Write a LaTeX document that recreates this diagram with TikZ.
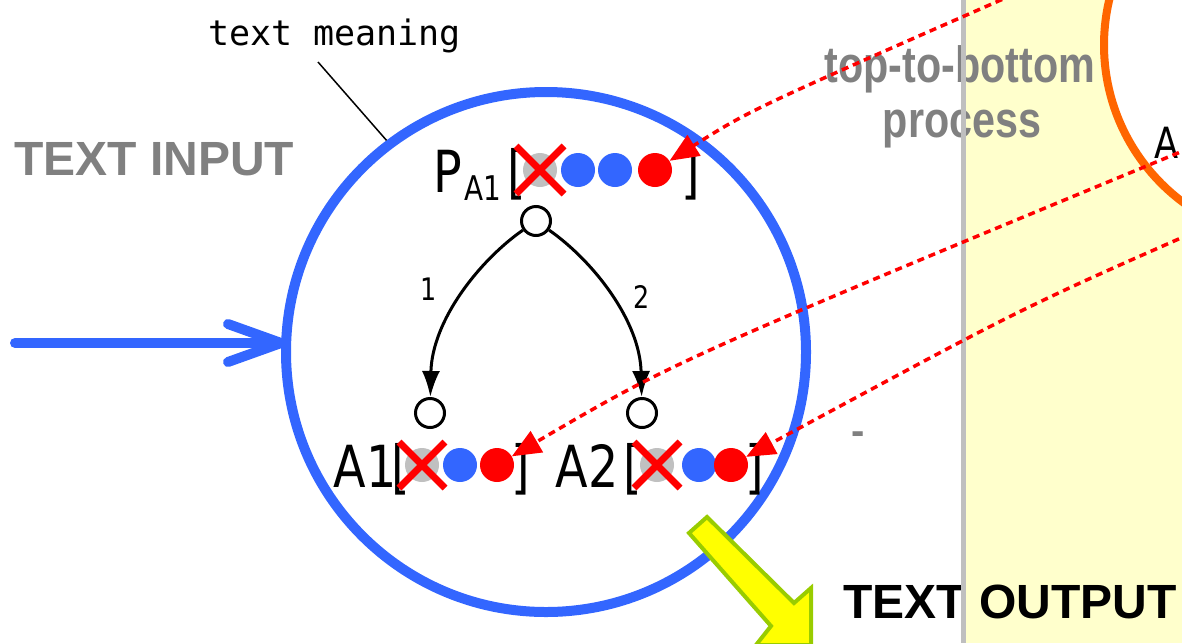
\documentclass[tikz,border=0pt]{standalone}
\usepackage{fontspec}
\setmainfont{DejaVu Sans}
\newfontfamily\labfont[FakeStretch=0.82]{DejaVu Sans}
\newfontfamily\tmfont{DejaVu Sans Mono}
\newfontfamily\arialfont{Liberation Sans}
\newfontfamily\narrowarial[FakeStretch=0.81]{Liberation Sans}
\usetikzlibrary{arrows.meta}
\definecolor{cblue}{HTML}{3366FF}
\definecolor{corange}{HTML}{FF6600}
\definecolor{cyellowbg}{HTML}{FFFFCC}
\definecolor{cgrayline}{HTML}{BFBFBF}
\definecolor{cgraytext}{HTML}{808080}
\definecolor{cgraydot}{HTML}{C0C0C0}
\definecolor{cgreen}{HTML}{99CC00}
\definecolor{cyellow}{HTML}{FFFF00}
\tikzset{
  lab/.style={font=\labfont\fontsize{58}{58}\selectfont, inner sep=0},
  smalllab/.style={font=\labfont\fontsize{31}{31}\selectfont, inner sep=0},
  dot/.style={circle, inner sep=0, minimum size=34pt},
  treenode/.style={circle, draw=black, line width=3pt, fill=white, minimum size=29pt, inner sep=0},
  treeedge/.style={line width=3pt, -{Latex[length=26pt,width=18pt]}},
  redarrow/.style={draw=red, line width=3.5pt, dash pattern=on 7pt off 5pt, -{Triangle[length=29pt,width=24pt]}},
  cross/.style={draw=red, line width=7pt},
  bigtext/.style={font=\arialfont\bfseries\fontsize{48}{48}\selectfont, inner sep=0},
}
\begin{document}
\begin{tikzpicture}[x=1pt,y=-1pt]
\useasboundingbox (0,0) rectangle (1182,643);
\clip (0,0) rectangle (1182,643);
% right panel
\fill[cyellowbg] (966,0) rectangle (1182,643);
\node[circle, draw=corange, line width=8pt, fill=white, minimum size=392pt, inner sep=0] (orange) at (1300,45) {};
\node[font=\labfont\fontsize{43}{43}\selectfont, inner sep=0, anchor=base] (labA) at (1167,158) {A};
% texts
\node[bigtext, text=cgraytext, anchor=base west] (inp) at (14,175) {TEXT INPUT};
\node[bigtext, text=black, anchor=base west] (outp) at (843,618) {TEXT OUTPUT};
\node[font=\narrowarial\bfseries\fontsize{51}{51}\selectfont, text=cgraytext, inner sep=0, anchor=base] (ttb1) at (960,82) {top-to-bottom};
\node[font=\narrowarial\bfseries\fontsize{51}{51}\selectfont, text=cgraytext, inner sep=0, anchor=base] (ttb2) at (962,137) {process};
\node[font=\arialfont\bfseries\fontsize{40}{40}\selectfont, text=cgraytext, inner sep=0, anchor=base] (dash) at (858,444) {-};
% divider
\coordinate (divtop) at (963,0);
\coordinate (divbot) at (963,643);
\draw[cgrayline, line width=5pt] (divtop) -- (divbot);
% blue circle
\node[circle, draw=cblue, line width=10pt, minimum size=520pt, inner sep=0] (meaning) at (546,352) {};
\coordinate (inStart) at (15,343);
\coordinate (inEnd) at (inStart -| meaning.west);
\draw[cblue, line width=10pt, line cap=round] (inStart) -- (inEnd);
\draw[cblue, line width=10pt, line cap=round, line join=round]
  ([shift={(-53,-19)}]inEnd) -- (inEnd) -- ([shift={(-53,19)}]inEnd);
% text meaning
\node[font=\tmfont\fontsize{35}{35}\selectfont, inner sep=0, anchor=base west] (tm) at (208,45) {text meaning};
\coordinate (lead) at (318,62);
\draw[line width=1.5pt] (lead) -- (meaning.127);
% top label
\node[lab, anchor=base west] (pa1) at (433,192) {P\kern3pt\raisebox{-8pt}{\fontsize{34}{34}\selectfont A1}};
\node[lab, anchor=base] (lb1) at (517,192) {[};
\node[lab, anchor=base] (rb1) at (691,192) {]};
\node[dot, fill=cgraydot] (g1) at (540,170) {};
\node[dot, fill=cblue] (b1) at (578,170) {};
\node[dot, fill=cblue] (b2) at (615,170) {};
\node[dot, fill=red] (r1) at (655,170) {};
\draw[cross] ([shift={(-24,-24)}]g1.center) -- ([shift={(24,24)}]g1.center);
\draw[cross] ([shift={(24,-24)}]g1.center) -- ([shift={(-24,24)}]g1.center);
% tree
\node[treenode] (root) at (536,221) {};
\node[treenode] (c1) at (430,413) {};
\node[treenode] (c2) at (642,413) {};
\draw[treeedge] (root) .. controls (480,260) and (432,320) .. (c1);
\draw[treeedge] (root) .. controls (592,260) and (640,320) .. (c2);
\node[smalllab] (e1) at (429,289) {1};
\node[smalllab] (e2) at (642,297) {2};
% bottom labels
\node[lab, anchor=base] (la1) at (365,487) {A1};
\node[lab, anchor=base] (lb2) at (401,487) {[};
\node[lab, anchor=base] (rb2) at (521,487) {]};
\node[dot, fill=cgraydot] (g2) at (422,465) {};
\node[dot, fill=cblue] (b3) at (460,465) {};
\node[dot, fill=red] (r2) at (497,465) {};
\draw[cross] ([shift={(-23,-23)}]g2.center) -- ([shift={(23,23)}]g2.center);
\draw[cross] ([shift={(23,-23)}]g2.center) -- ([shift={(-23,23)}]g2.center);
\node[lab, anchor=base] (la2) at (587,487) {A2};
\node[lab, anchor=base] (lb3) at (633,487) {[};
\node[lab, anchor=base] (rb3) at (755,487) {]};
\node[dot, fill=cgraydot] (g3) at (657,465) {};
\node[dot, fill=cblue] (b4) at (699,465) {};
\node[dot, fill=red] (r3) at (731,465) {};
\draw[cross] ([shift={(-23,-23)}]g3.center) -- ([shift={(23,23)}]g3.center);
\draw[cross] ([shift={(23,-23)}]g3.center) -- ([shift={(-23,23)}]g3.center);
% red dashed arrows
\coordinate (s1) at (1035,-15);
\coordinate (s2) at (1190,148);
\coordinate (s3) at (1190,234);
\draw[redarrow] (s1) .. controls (750,110) .. (r1);
\draw[redarrow] (s2) .. controls (673,362) .. (r2);
\draw[redarrow] (s3) .. controls (1020,309) .. (r3);
% yellow arrow
\draw[fill=cyellow, draw=cgreen, line width=4pt, line join=miter]
  (707,517) -- (794,603) -- (811,588) -- (811,645) -- (756,645) -- (771,626) -- (689,533) -- cycle;
\end{tikzpicture}
\end{document}
